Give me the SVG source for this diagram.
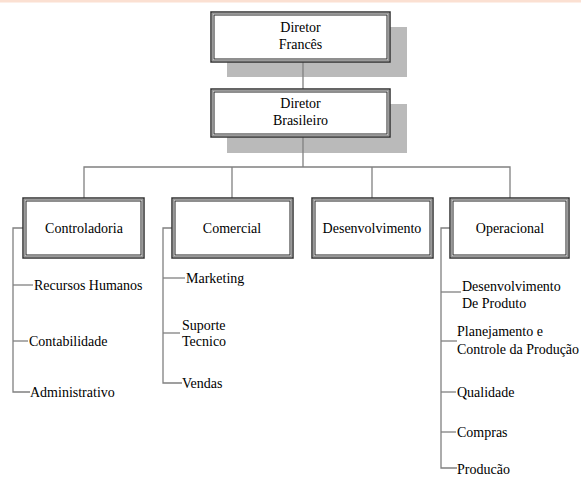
<svg xmlns="http://www.w3.org/2000/svg" width="581" height="477" viewBox="0 0 581 477" font-family="Liberation Serif, Times New Roman, serif">
<style>
.o{fill:#fff;stroke:#333;stroke-width:1.5}
.m{fill:none;stroke:#9a9a9a;stroke-width:1}
.i{fill:none;stroke:#333;stroke-width:1.1}
.sh{fill:#bababa}
.c{fill:none;stroke:#808080;stroke-width:1.3}
text{font-family:'Liberation Serif','Times New Roman',serif;font-size:14px;fill:#000}
.mid{text-anchor:middle}
</style>
<rect x="0" y="0" width="581" height="2.5" fill="#fbe0d2"/>
<rect class="sh" x="227" y="27" width="180" height="50"/>
<rect class="sh" x="227" y="104" width="180" height="49"/>
<g id="connectors">
<line class="c" x1="303" y1="62" x2="303" y2="89"/>
<line class="c" x1="303" y1="137" x2="303" y2="167"/>
<polyline class="c" points="84,198 84,167 510,167 510,198"/>
<line class="c" x1="232" y1="167" x2="232" y2="198"/>
<line class="c" x1="372" y1="167" x2="372" y2="198"/>
<polyline class="c" points="23,228 13,228 13,392 30,392"/>
<line class="c" x1="13" y1="285" x2="33" y2="285"/>
<line class="c" x1="13" y1="341" x2="28" y2="341"/>
<polyline class="c" points="172,228 163,228 163,383 182,383"/>
<line class="c" x1="163" y1="278" x2="185" y2="278"/>
<line class="c" x1="163" y1="333" x2="180" y2="333"/>
<polyline class="c" points="450,228 441,228 441,468 457,468"/>
<line class="c" x1="441" y1="292" x2="461" y2="292"/>
<line class="c" x1="441" y1="341" x2="457" y2="341"/>
<line class="c" x1="441" y1="392" x2="456" y2="392"/>
<line class="c" x1="441" y1="432" x2="456" y2="432"/>
</g>
<g id="diretor-frances">
<rect class="o" x="211" y="12" width="179" height="50"/>
<rect class="m" x="212.5" y="13.5" width="176" height="47"/>
<rect class="i" x="214" y="15" width="173" height="44"/>
<text class="mid" x="300.5" y="32">Diretor</text>
<text class="mid" x="300.5" y="49">Francês</text>
</g>
<g id="diretor-brasileiro">
<rect class="o" x="211" y="89" width="179" height="48"/>
<rect class="m" x="212.5" y="90.5" width="176" height="45"/>
<rect class="i" x="214" y="92" width="173" height="42"/>
<text class="mid" x="300.5" y="108">Diretor</text>
<text class="mid" x="300.5" y="125">Brasileiro</text>
</g>
<g id="controladoria">
<rect class="o" x="23" y="198" width="121" height="60"/>
<rect class="m" x="24.5" y="199.5" width="118" height="57"/>
<rect class="i" x="26" y="201" width="115" height="54"/>
<text class="mid" x="84" y="233">Controladoria</text>
</g>
<g id="comercial">
<rect class="o" x="172" y="198" width="121" height="60"/>
<rect class="m" x="173.5" y="199.5" width="118" height="57"/>
<rect class="i" x="175" y="201" width="115" height="54"/>
<text class="mid" x="232" y="233">Comercial</text>
</g>
<g id="desenvolvimento">
<rect class="o" x="312" y="198" width="121" height="60"/>
<rect class="m" x="313.5" y="199.5" width="118" height="57"/>
<rect class="i" x="315" y="201" width="115" height="54"/>
<text class="mid" x="372" y="233">Desenvolvimento</text>
</g>
<g id="operacional">
<rect class="o" x="450" y="198" width="119" height="60"/>
<rect class="m" x="451.5" y="199.5" width="116" height="57"/>
<rect class="i" x="453" y="201" width="113" height="54"/>
<text class="mid" x="510" y="233">Operacional</text>
</g>
<g id="recursos-humanos"><text x="34" y="290">Recursos Humanos</text></g>
<g id="contabilidade"><text x="29" y="346">Contabilidade</text></g>
<g id="administrativo"><text x="30" y="397">Administrativo</text></g>
<g id="marketing"><text x="186" y="283">Marketing</text></g>
<g id="suporte-tecnico"><text x="182" y="330">Suporte</text><text x="182" y="346">Tecnico</text></g>
<g id="vendas"><text x="182" y="388">Vendas</text></g>
<g id="desenvolvimento-produto"><text x="462" y="291">Desenvolvimento</text><text x="462" y="308">De Produto</text></g>
<g id="planejamento"><text x="457" y="336">Planejamento e</text><text x="457" y="354">Controle da Produção</text></g>
<g id="qualidade"><text x="457" y="397">Qualidade</text></g>
<g id="compras"><text x="457" y="437">Compras</text></g>
<g id="producao"><text x="457" y="474">Producão</text></g>
</svg>
